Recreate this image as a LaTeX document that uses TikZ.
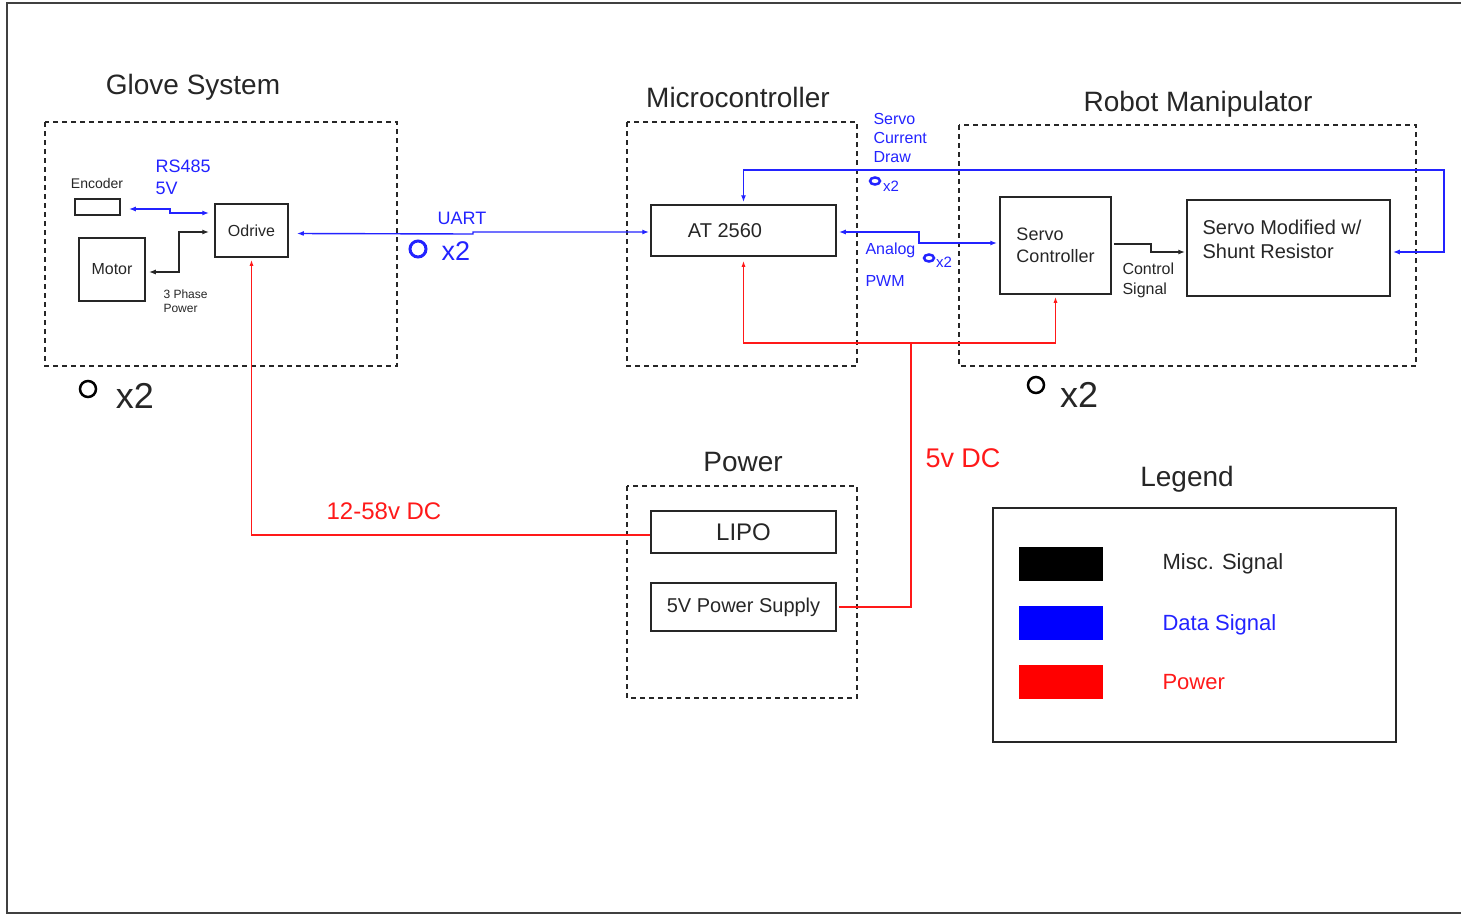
\documentclass[tikz,border=0pt]{standalone}
\usepackage{fontspec}
\setmainfont{Liberation Sans}
\usetikzlibrary{arrows.meta,positioning}

\definecolor{datablue}{RGB}{35,35,255}
\definecolor{pwrred}{RGB}{255,25,25}
\newcommand{\fsz}[2]{\fontsize{#1}{#2}\selectfont}

\begin{document}
\begin{tikzpicture}[x=1pt,y=-1pt,
  blk/.style={draw=black!85, line width=1.5pt, inner sep=0pt, align=left, text=black!85},
  grp/.style={draw=black!85, line width=1.3pt, dash pattern=on 5pt off 4pt},
  ttl/.style={font=\fsz{28}{32}, text=black!85},
  data/.style={datablue, line width=1.4pt, {Latex[length=7pt,width=5pt]}-{Latex[length=7pt,width=5pt]}},
  misc/.style={black!85, line width=1.4pt, {Latex[length=7pt,width=5pt]}-{Latex[length=7pt,width=5pt]}},
  pwr/.style={pwrred, line width=1.4pt, -{Latex[length=6pt,width=4pt]}},
  bluetxt/.style={text=datablue, align=left},
  redtxt/.style={text=pwrred},
  smalltxt/.style={text=black!85, align=left}]

  \useasboundingbox (0,0) rectangle (1461,919);
  % outer frame
  \draw[line width=2pt, black!75] (1470,3) -- (7,3) -- (7,913) -- (1470,913);

  % === Glove System ===
  \draw[grp] (45,122) rectangle (397,366);
  \node[ttl] (glovettl) at (193,87) {Glove System};
  \node[blk, minimum width=45pt, minimum height=16pt] (enc) at (97.5,207) {};
  \node[smalltxt, font=\fsz{14}{16}] (enclbl) at (97,183) {Encoder};
  \node[blk, minimum width=73pt, minimum height=53pt, font=\fsz{16}{19}] (odrive) at (251.5,230.5) {Odrive};
  \node[blk, minimum width=66pt, minimum height=63pt, font=\fsz{16}{19}] (motor) at (112,269.5) {\raisebox{-3pt}{Motor}};
  \node[bluetxt, font=\fsz{18}{22}, anchor=west] (rslbl) at (152,177) {RS485\\5V};
  \node[smalltxt, font=\fsz{12}{14}, anchor=west] (phaselbl) at (160,301) {3 Phase\\Power};
  \draw[black, line width=2.5pt] (88,389) circle (8pt);
  \node[text=black!85, font=\fsz{36}{40}] (glovex) at (135,396) {x2};

  % encoder and motor links
  \draw[data] ([xshift=8pt,yshift=-2pt]enc.east) -- (170,209) |- ([xshift=-5pt,yshift=17.5pt]odrive.west);
  \draw[misc] ([xshift=3pt,yshift=-2.5pt]motor.east) -| (179,232) -- ([xshift=-5pt,yshift=-1.5pt]odrive.west);

  % === Microcontroller ===
  \draw[grp] (627,122) rectangle (857,366);
  \node[ttl] (mcuttl) at (738,97) {Microcontroller};
  \node[blk, minimum width=185pt, minimum height=51pt, font=\fsz{20}{24}] (at) at (743.5,230.5) {AT 2560\hspace{37pt}};

  % UART link
  \draw[data] ([xshift=8pt,yshift=-3pt]odrive.east) -- (473,234) -- (473,232) -- ([xshift=-1pt,yshift=-1.5pt]at.west);
  \node[bluetxt, font=\fsz{18}{22}] (uartlbl) at (462,218) {UART};
  \draw[datablue, line width=3pt] (418,249) circle (8pt);
  \node[bluetxt, font=\fsz{27}{30}] (uartx) at (456,251) {x2};

  % === Robot Manipulator ===
  \draw[grp] (959,125) rectangle (1416,366);
  \node[ttl] (robotttl) at (1198,104) {Robot Manipulator};
  \node[blk, minimum width=111pt, minimum height=97pt, font=\fsz{18}{22}] (sc) at (1055.5,245.5) {Servo\\Controller};
  \node[blk, minimum width=203pt, minimum height=96pt] (sm) at (1288.5,248) {};
  \node[smalltxt, font=\fsz{20}{24}, anchor=west] (smlbl) at (1199,239) {Servo Modified w/\\Shunt Resistor};
  \draw[black, line width=2.5pt] (1036,385) circle (8pt);
  \node[text=black!85, font=\fsz{36}{40}] (robotx) at (1079,395) {x2};

  % analog / pwm link
  \draw[data] ([xshift=2pt,yshift=-1.5pt]at.east) -- (919,232) |- ([xshift=-2pt,yshift=2.5pt]sc.west);
  \node[bluetxt, font=\fsz{16}{19}, anchor=west] (analoglbl) at (862,250) {Analog};
  \node[bluetxt, font=\fsz{16}{19}, anchor=west] (pwmlbl) at (862,281) {PWM};
  \draw[datablue, line width=2.5pt] (929,258) ellipse (5pt and 3.5pt);
  \node[bluetxt, font=\fsz{15}{18}] (analogx) at (944,262) {x2};

  % current draw feedback
  \draw[data] ([xshift=2pt,yshift=-4pt]sm.east) -| (1444,170) -| ([yshift=2pt]at.north);
  \node[bluetxt, font=\fsz{16}{19}, anchor=west] (drawlbl) at (870,138) {Servo\\Current\\Draw};
  \draw[datablue, line width=2.5pt] (875,181) ellipse (5pt and 3.5pt);
  \node[bluetxt, font=\fsz{15}{18}] (drawx) at (891,186) {x2};

  % control signal
  \draw[misc, {}-{Latex[length=7pt,width=5pt]}] ([xshift=2pt,yshift=1.5pt]sc.east) -- (1151,244) |- ([xshift=-1pt,yshift=-4pt]sm.west);
  \node[smalltxt, font=\fsz{16}{20}, anchor=west] (ctrllbl) at (1119,280) {Control\\Signal};

  % === Power ===
  \draw[grp] (627,486) rectangle (857,698);
  \node[ttl] (pwrttl) at (743,462) {Power};
  \node[blk, minimum width=185pt, minimum height=42pt, font=\fsz{24}{28}] (lipo) at (743.5,532) {LIPO};
  \node[blk, minimum width=185pt, minimum height=48pt, font=\fsz{20}{24}] (psu) at (743.5,607) {5V Power Supply};

  % power rails
  \draw[pwr] ([yshift=-3pt]lipo.west) -| ([yshift=-2pt]odrive.south);
  \node[redtxt, font=\fsz{24}{28}] (battlbl) at (384,511) {12-58v DC};
  \draw[pwr] ([xshift=2pt]psu.east) -| (911,343) -| ([yshift=-4pt]at.south);
  \draw[pwr] (911,343) -| ([yshift=-2pt]sc.south);
  \node[redtxt, font=\fsz{27}{30}] (fivelbl) at (963,458) {5v DC};

  % === Legend ===
  \node[ttl] (legttl) at (1187,479) {Legend};
  \draw[black!85, line width=1.5pt] (993,508) rectangle (1396,742);
  \fill[black] (1019,547) rectangle (1103,581);
  \fill[blue] (1019,606) rectangle (1103,640);
  \fill[red] (1019,665) rectangle (1103,699);
  \node[text=black!85, font=\fsz{22}{26}, anchor=west] (misclbl) at (1159,564) {Misc. Signal};
  \node[text=datablue, font=\fsz{22}{26}, anchor=west] (datalbl) at (1159,625) {Data Signal};
  \node[text=pwrred, font=\fsz{22}{26}, anchor=west] (powerlbl) at (1159,682) {Power};

\end{tikzpicture}
\end{document}
